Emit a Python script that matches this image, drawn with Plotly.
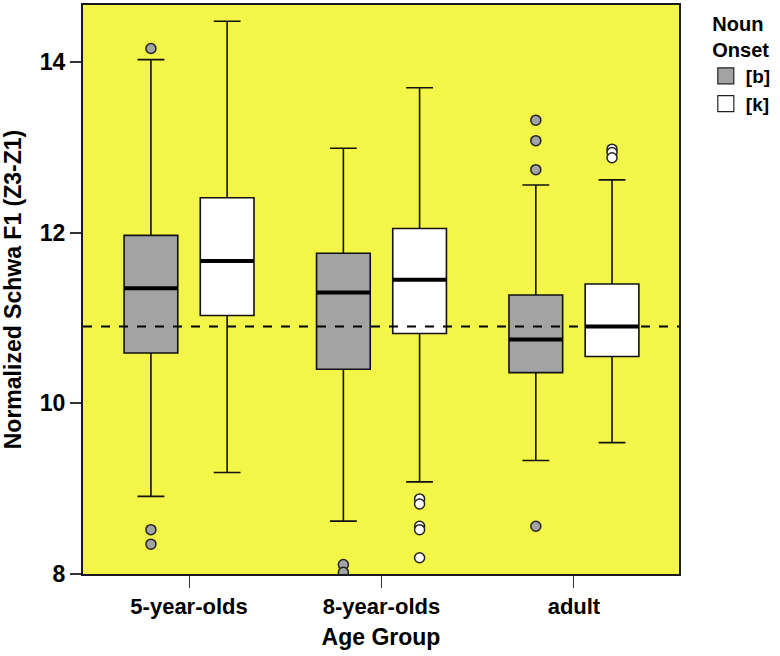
import plotly.graph_objects as go

# ---- data ----
age_groups = ["5-year-olds", "8-year-olds", "adult"]
onset_labels = ["[b]", "[k]"]

b_lowerfence = [8.91, 8.62, 9.33]
b_q1 = [10.59, 10.40, 10.36]
b_median = [11.35, 11.30, 10.75]
b_q3 = [11.97, 11.76, 11.27]
b_upperfence = [14.03, 12.99, 12.56]
b_outliers = [[14.16, 8.52, 8.35], [8.11, 8.02], [13.32, 13.08, 12.74, 8.56]]

k_lowerfence = [9.19, 9.08, 9.54]
k_q1 = [11.03, 10.82, 10.55]
k_median = [11.67, 11.45, 10.90]
k_q3 = [12.41, 12.05, 11.40]
k_upperfence = [14.48, 13.70, 12.62]
k_outliers = [[], [8.88, 8.82, 8.56, 8.52, 8.19], [12.98, 12.94, 12.88]]

reference_line = 10.90
y_ticks = [8, 10, 12, 14]

# ---- style ----
BG = "#f3f548"
GRAY = "#a3a3a3"
WHITE = "#ffffff"
OFFSET = 0.198
BOXW = 0.279
FONT = "Liberation Sans, Arial, sans-serif"

fig = go.Figure()
idx = list(range(len(age_groups)))

series = [
    (onset_labels[0], GRAY, -OFFSET, b_lowerfence, b_q1, b_median, b_q3, b_upperfence, b_outliers),
    (onset_labels[1], WHITE, OFFSET, k_lowerfence, k_q1, k_median, k_q3, k_upperfence, k_outliers),
]

for name, color, off, lf, q1, med, q3, uf, outs in series:
    xs = [i + off for i in idx]
    fig.add_trace(go.Box(
        x=xs, q1=q1, median=med, q3=q3, lowerfence=lf, upperfence=uf,
        width=BOXW, whiskerwidth=0.5, fillcolor=color,
        line=dict(color="#111111", width=1.6), boxpoints=False,
        showlegend=False, hoverinfo="skip"))
    # thick median line
    fig.add_trace(go.Box(
        x=xs, q1=med, median=med, q3=med, lowerfence=med, upperfence=med,
        width=BOXW, whiskerwidth=0, fillcolor="rgba(0,0,0,0)",
        line=dict(color="#000000", width=4), boxpoints=False,
        showlegend=False, hoverinfo="skip"))
    ox, oy = [], []
    for i, vals in zip(idx, outs):
        for v in vals:
            ox.append(i + off)
            oy.append(v)
    fig.add_trace(go.Scatter(
        x=ox, y=oy, mode="markers",
        marker=dict(size=10, color=color, line=dict(color="#222222", width=1.5)),
        showlegend=False, hoverinfo="skip"))
    # legend entry
    fig.add_trace(go.Scatter(
        x=[None], y=[None], mode="markers", name="<b>%s</b>" % name,
        marker=dict(symbol="square", size=17, color=color,
                    line=dict(color="#222222", width=1.2)),
        showlegend=True))

fig.add_shape(type="line", xref="paper", x0=0, x1=1, yref="y",
              y0=reference_line, y1=reference_line,
              line=dict(color="black", width=2, dash="dash"))

fig.update_layout(
    width=780, height=656,
    margin=dict(l=83, r=101, t=3, b=82),
    paper_bgcolor="white", plot_bgcolor=BG,
    font=dict(family=FONT, size=20, color="black"),
    showlegend=True,
    legend=dict(
        x=1.045, xanchor="left", y=1.0, yanchor="top",
        title=dict(text="<b>Noun<br>Onset</b>", font=dict(size=20), side="top center"),
        font=dict(size=19, family=FONT),
        itemwidth=30, tracegroupgap=0, bgcolor="rgba(0,0,0,0)"),
    xaxis=dict(
        range=[-0.551, 2.546], tickvals=idx,
        ticktext=["<b>%s</b>" % g for g in age_groups],
        ticks="outside", ticklen=12, tickwidth=1, tickcolor="#333333",
        showgrid=False, zeroline=False,
        showline=True, linecolor="#1a1a1a", linewidth=2, mirror=True,
        title=dict(text="<b>Age Group</b>", standoff=10, font=dict(size=23)),
        tickfont=dict(size=22)),
    yaxis=dict(
        range=[8, 14.67], tickvals=y_ticks,
        ticktext=["<b>%d</b>" % t for t in y_ticks],
        ticks="outside", ticklen=11, tickwidth=1.5, tickcolor="#333333",
        showgrid=False, zeroline=False,
        showline=True, linecolor="#1a1a1a", linewidth=2, mirror=True,
        title=dict(text="<b>Normalized Schwa F1 (Z3-Z1)</b>", standoff=12,
                   font=dict(size=23)),
        tickfont=dict(size=23)),
)

fig.write_html("out.html", config={"displayModeBar": False},
               post_script="document.body.style.margin='0';")
